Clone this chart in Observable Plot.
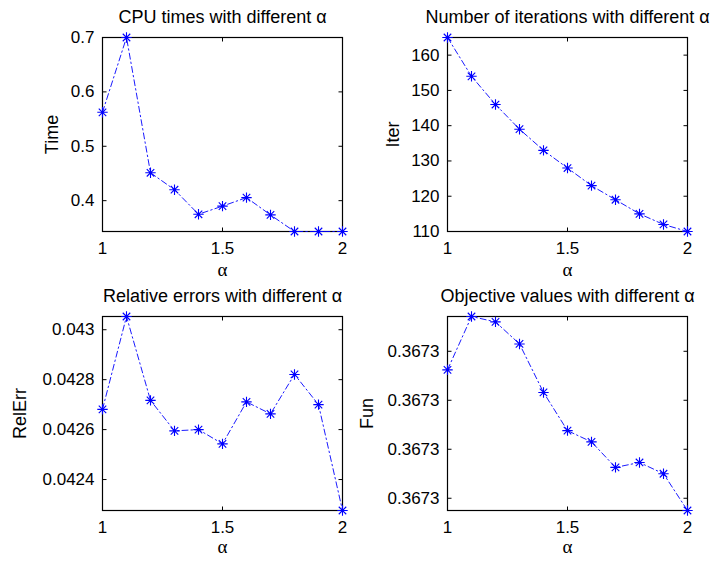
<!DOCTYPE html>
<html><head><meta charset="utf-8">
<script src="https://cdn.jsdelivr.net/npm/d3@7"></script>
<script src="https://cdn.jsdelivr.net/npm/@observablehq/plot@0.6"></script>
<style>
body{margin:0;background:#fff;}
#wrap{position:relative;width:720px;height:563px;background:#fff;}
.panel{position:absolute;}
</style></head><body><div id="wrap"></div>
<script>
const alpha = [1, 1.1, 1.2, 1.3, 1.4, 1.5, 1.6, 1.7, 1.8, 1.9, 2];
const cpuTime = [0.5625, 0.70, 0.4513, 0.4201, 0.375, 0.390, 0.4056, 0.3738, 0.3433, 0.3433, 0.3433];
const iterations = [165, 154, 146, 139, 133, 128, 123, 119, 115, 112, 110];
const relErr = [0.042681, 0.043053, 0.042717, 0.042595, 0.042600, 0.042543, 0.042711, 0.042663, 0.042821, 0.042700, 0.042276];
const funVal = [0.3673062, 0.3673171, 0.3673160, 0.3673115, 0.3673016, 0.3672938, 0.3672915, 0.3672863, 0.3672873, 0.3672850, 0.3672775];

const xTicks = [1, 1.5, 2];
const timeTicks = [0.4, 0.5, 0.6, 0.7];
const iterTicks = [110, 120, 130, 140, 150, 160];
const relErrTicks = [0.0424, 0.0426, 0.0428, 0.043];
const funTicks = [0.36728, 0.36729, 0.36730, 0.36731];

const titles = ["CPU times with different α", "Number of iterations with different α",
                "Relative errors with different α", "Objective values with different α"];
const yLabels = ["Time", "Iter", "RelErr", "Fun"];
const xLabel = "α";

const FONT = "'Liberation Sans', Arial, Helvetica, sans-serif";

const asterisk = {draw(ctx, size) {
  const r = Math.sqrt(size / Math.PI), q = r * 0.72;
  ctx.moveTo(-r, 0); ctx.lineTo(r, 0);
  ctx.moveTo(0, -r); ctx.lineTo(0, r);
  ctx.moveTo(-q, -q); ctx.lineTo(q, q);
  ctx.moveTo(-q, q); ctx.lineTo(q, -q);
}};
const tickSym = (ux, uy) => ({draw(ctx, size) {
  const L = Math.sqrt(size / Math.PI);
  ctx.moveTo(0, 0); ctx.lineTo(ux * L, uy * L);
}});

function panel(o) {
  const data = alpha.map((a, i) => ({a, v: o.y[i]}));
  const tk = {r: 4, stroke: "black", fill: "none", strokeWidth: 1};
  const chart = Plot.plot({
    width: o.w, height: o.h,
    marginLeft: o.mL, marginRight: o.mR, marginTop: o.mT, marginBottom: o.mB,
    style: {fontFamily: FONT, fontSize: "17px", background: "transparent", color: "black"},
    x: {domain: [1, 2]},
    y: {domain: [d3.min(o.y), d3.max(o.y)]},
    marks: [
      Plot.axisX({ticks: xTicks, tickSize: 0, tickPadding: 10, tickFormat: d => String(d), label: null, fontSize: 17}),
      Plot.axisY({ticks: o.ticks, tickSize: 0, tickPadding: 8, tickFormat: o.fmt, label: null, fontSize: 17}),
      Plot.frame({stroke: "black", strokeWidth: 1.2}),
      Plot.dot(xTicks, {x: d => d, frameAnchor: "bottom", symbol: tickSym(0, -1), ...tk}),
      Plot.dot(xTicks, {x: d => d, frameAnchor: "top", symbol: tickSym(0, 1), ...tk}),
      Plot.dot(o.ticks, {y: d => d, frameAnchor: "left", symbol: tickSym(1, 0), ...tk}),
      Plot.dot(o.ticks, {y: d => d, frameAnchor: "right", symbol: tickSym(-1, 0), ...tk}),
      Plot.line(data, {x: "a", y: "v", stroke: "#0000ff", strokeWidth: 0.9, strokeDasharray: "6,3,1.5,3"}),
      Plot.dot(data, {x: "a", y: "v", symbol: asterisk, r: 5.2, stroke: "#0000ff", fill: "none", strokeWidth: 1.1}),
      Plot.text([o.title], {text: d => d, frameAnchor: "top", dy: -15, lineAnchor: "bottom", textAnchor: "middle", fontSize: 18}),
      Plot.text([xLabel], {text: d => d, frameAnchor: "bottom", dy: o.xlDy, lineAnchor: "middle", textAnchor: "middle", fontSize: 19, fontFamily: "'Liberation Serif', 'DejaVu Serif', serif"}),
      Plot.text([o.ylabel], {text: d => d, frameAnchor: "left", dx: -o.ylDx, rotate: -90, lineAnchor: "middle", textAnchor: "middle", fontSize: 18})
    ]
  });
  chart.classList.add("panel");
  chart.style.left = o.left + "px";
  chart.style.top = o.top + "px";
  document.getElementById("wrap").appendChild(chart);
}

const fmtPlain = d => String(+d.toFixed(4));
const fmtFun = d => d.toFixed(4);

panel({left: 0, top: 0, w: 360, h: 280, mL: 102, mR: 18, mT: 37, mB: 49, y: cpuTime, ticks: timeTicks, fmt: fmtPlain, title: titles[0], ylabel: yLabels[0], ylDx: 50, xlDy: 38});
panel({left: 340, top: 0, w: 380, h: 280, mL: 107, mR: 33, mT: 37, mB: 49, y: iterations, ticks: iterTicks, fmt: d => String(d), title: titles[1], ylabel: yLabels[1], ylDx: 54, xlDy: 38});
panel({left: 0, top: 280, w: 360, h: 283, mL: 102, mR: 18, mT: 36, mB: 53, y: relErr, ticks: relErrTicks, fmt: fmtPlain, title: titles[2], ylabel: yLabels[2], ylDx: 82, xlDy: 36});
panel({left: 345, top: 280, w: 375, h: 283, mL: 102, mR: 33, mT: 36, mB: 53, y: funVal, ticks: funTicks, fmt: fmtFun, title: titles[3], ylabel: yLabels[3], ylDx: 80, xlDy: 36});
</script></body></html>
